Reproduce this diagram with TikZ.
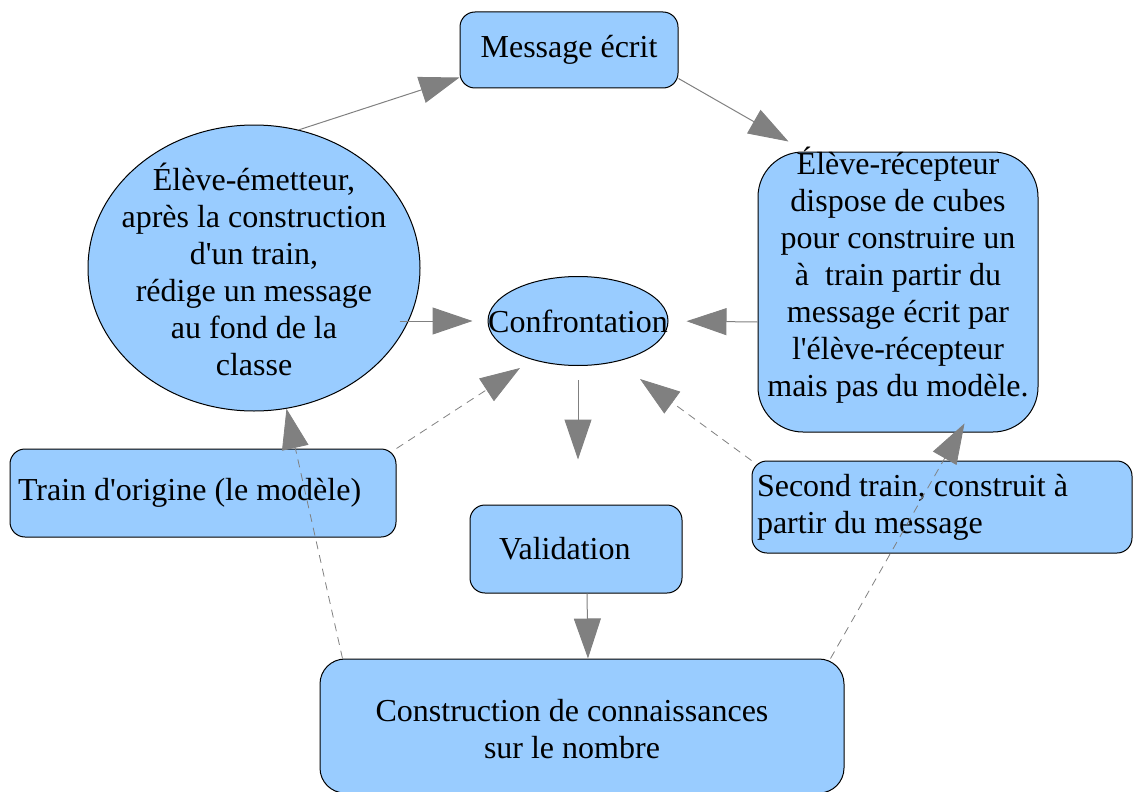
\documentclass[tikz,border=0pt]{standalone}
\usepackage{fontspec}
\newfontfamily\police{Liberation Serif}
\usepackage{tikz}
\definecolor{bleu}{HTML}{99CCFF}
\definecolor{gris}{HTML}{808080}
\usetikzlibrary{shapes,calc,arrows.meta}
\tikzset{boite/.style={
    draw=black,
    fill=bleu,
    line width=1pt,
    rounded corners=15pt}}
\tikzset{bulle/.style={
    ellipse,
    draw=black,
    fill=bleu,
    line width=1pt,
    inner sep=0}}
\tikzset{fleche/.style={
    draw=gris,
    line width=1pt,
    -{Triangle[length=40pt,width=27pt]}}}
\tikzset{tirets/.style={
    fleche,
    line width=0.8pt,
    dash pattern=on 8pt off 6pt}}

\begin{document}
\begin{tikzpicture}[x=1pt, y=-1pt, font=\police\fontsize{32pt}{37pt}\selectfont]
  \useasboundingbox (0,0) rectangle (1133,792);

\node[boite,
  minimum width=218pt,
  minimum height=76pt] (msg) at (569,50) {Message écrit};

\node[bulle,
  minimum width=332pt,
  minimum height=286pt] (emet) at (254,268) {};
\node[align=center] (emettxt) at ($(emet.center)+(0,1)$)
  {Élève-émetteur,\\après la construction\\d'un train,\\rédige un message\\au fond de la\\classe};

\node[bulle,
  minimum width=180pt,
  minimum height=89pt] (conf) at (578,321) {\makebox[0pt]{Confrontation}};

\node[boite,
  rounded corners=45pt,
  minimum width=280pt,
  minimum height=280pt] (recep) at (898,292) {};
\node[align=center] (receptxt) at ($(recep.center)+(0,-17)$)
  {Élève-récepteur\\dispose de cubes\\pour construire un\\à~ train partir du\\message écrit par\\l'élève-récepteur\\mais pas du modèle.};

\node[boite,
  minimum height=88pt,
  text width=370pt,
  inner xsep=8pt,
  align=flush left] (orig) at (203,493) {Train d'origine (le modèle)};

\node[boite,
  minimum height=88pt,
  text width=154pt,
  inner xsep=29pt,
  align=flush left] (valid) at (576,549) {Validation};

\node[boite,
  minimum height=92pt,
  text width=370pt,
  inner xsep=5pt,
  align=flush left] (second) at (942,507) {Second train, construit à\\partir du message};

\node[boite,
  rounded corners=25pt,
  minimum width=524pt,
  minimum height=134pt] (constr) at (582,726) {};
\node[align=center] (constrtxt) at ($(constr.center)+(-10,3)$)
  {Construction de connaissances\\sur le nombre};

  % fleches pleines
  \draw[fleche] (emet.72) -- ($(msg.south west)+(0,-11)$);
  \draw[fleche] ($(msg.south east)+(0,-10)$) -- ($(recep.north west)+(31,-10)$);
  \draw[fleche, shorten >=15pt] ($(conf.west)+(-88,0)$) -- (conf.west);
  \draw[fleche, shorten >=18pt] ($(recep.west)+(0,30)$) -- (conf.east);
  \draw[fleche, shorten <=14pt, shorten >=45pt] (conf.south) -- (conf.south |- valid.north);
  \draw[fleche] ($(valid.south)+(11,0)$) -- ($(constr.north)+(6,0)$);

  % fleches en tirets
  \draw[tirets] (orig.north east) -- ($(conf.south)+(-58,2)$);
  \draw[tirets] (second.north west) -- ($(conf.south)+(62,13)$);
  \draw[tirets] ($(constr.north west)+(23,0)$) -- (emet.283);
  \draw[tirets] ($(constr.north east)+(-14,0)$) -- ($(recep.south east)+(-74,-9)$);
\end{tikzpicture}
\end{document}
